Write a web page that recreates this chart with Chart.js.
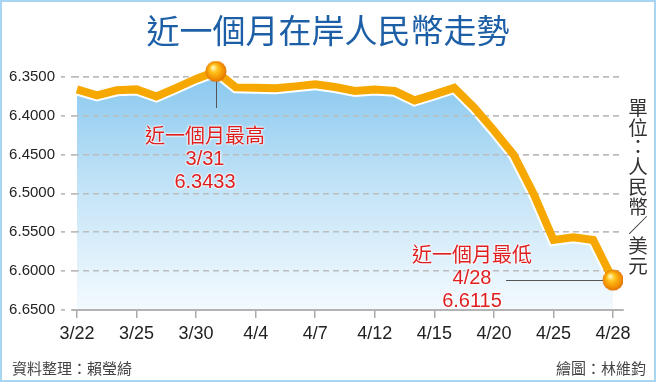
<!DOCTYPE html>
<html>
<head>
<meta charset="utf-8">
<script src="https://cdn.jsdelivr.net/npm/chart.js@4.4.1/dist/chart.umd.min.js"></script>
<style>
  html, body { margin: 0; padding: 0; background: #fff; }
  #wrap { position: relative; width: 656px; height: 382px; overflow: hidden; }
  #frame { position: absolute; left: 0; top: 0; width: 652px; height: 378px; border: 2px solid #a8d6f2; pointer-events: none; }
  canvas { position: absolute; left: 0; top: 0; }
  .txt { position: absolute; font-family: "Noto Sans CJK TC", "Liberation Sans", sans-serif; white-space: nowrap; }
  #title { left: 0; width: 656px; top: 8px; text-align: center; font-size: 33px; line-height: 42px; color: #1d5fa6; }
  #src { left: 12px; top: 358px; font-size: 15px; line-height: 20px; color: #444; }
  #artist { right: 10px; top: 358px; font-size: 15px; line-height: 20px; color: #444; }
  #unit { left: 628px; top: 97px; width: 20px; font-size: 19.5px; line-height: 19.7px; color: #333; }
  #unit span { display: block; text-align: center; }
  .note { color: #df1f1f; font-size: 20px; line-height: 21.5px; text-align: center; width: 160px;
          text-shadow: 0 0 2px #fff, 0 0 2px #fff, 0 0 3px #fff; }
  .note .num { font-family: "Liberation Sans", sans-serif; }
</style>
</head>
<body>
<div id="wrap">
  <canvas id="chart" width="656" height="382"></canvas>
  <div id="title" class="txt">近一個月在岸人民幣走勢</div>
  <div id="unit" class="txt"><span>單</span><span>位</span><span>：</span><span>人</span><span>民</span><span>幣</span><span>／</span><span>美</span><span>元</span></div>
  <div id="hi" class="txt note" style="left:125px; top:124px;">近一個月最高<br><span class="num">3/31</span><br><span class="num">6.3433</span></div>
  <div id="lo" class="txt note" style="left:392px; top:243px;">近一個月最低<br><span class="num">4/28</span><br><span class="num">6.6115</span></div>
  <div id="src" class="txt">資料整理：賴瑩綺</div>
  <div id="artist" class="txt">繪圖：林維鈞</div>
  <div id="frame"></div>
</div>
<script>
// trading days shown on the chart
const dates = ['3/22', '3/23', '3/24', '3/25', '3/28', '3/29', '3/30', '3/31', '4/1', '4/4',
               '4/5', '4/6', '4/7', '4/8', '4/11', '4/12', '4/13', '4/14', '4/15', '4/18',
               '4/19', '4/20', '4/21', '4/22', '4/25', '4/26', '4/27', '4/28'];
// CNY per USD
const rates = [6.3665, 6.3742, 6.3677, 6.3665, 6.3755, 6.3645, 6.3530, 6.3433, 6.3639, 6.3645,
               6.3649, 6.3626, 6.3600, 6.3635, 6.3684, 6.3665, 6.3684, 6.3806, 6.3729, 6.3645,
               6.3897, 6.4193, 6.4507, 6.5008, 6.5600, 6.5567, 6.5600, 6.6115];
const labelledDays = [0, 3, 6, 9, 12, 15, 18, 21, 24, 27];
const yTicks = [6.35, 6.40, 6.45, 6.50, 6.55, 6.60, 6.65];
const highIdx = 7;
const lowIdx = 27;

const points = rates.map((v, i) => ({ x: i, y: v }));
const marks = [highIdx, lowIdx].map(i => ({ x: i, y: rates[i] }));

// orange ball for the high / low points
const ball = document.createElement('canvas');
ball.width = 24; ball.height = 24;
(function () {
    const c = ball.getContext('2d');
    const g = c.createRadialGradient(9, 8, 1, 12, 12, 11);
    g.addColorStop(0, '#fff2b0');
    g.addColorStop(0.3, '#ffc21a');
    g.addColorStop(0.8, '#f08a00');
    g.addColorStop(1, '#d86a00');
    c.fillStyle = g;
    c.beginPath();
    c.arc(12, 12, 10.5, 0, Math.PI * 2);
    c.fill();
})();

// after the blue area: put the dashed grid back on top, then the leader lines
const overFill = {
    id: 'overFill',
    afterDatasetDraw(chart, args) {
        if (args.index !== 2) return;
        const { ctx, scales: { x, y } } = chart;
        y.drawGrid(chart.chartArea);
        x.drawBorder();
        ctx.save();
        ctx.strokeStyle = '#555';
        ctx.lineWidth = 1;
        ctx.beginPath();
        const hx = Math.round(x.getPixelForValue(highIdx)) + 0.5;
        ctx.moveTo(hx, y.getPixelForValue(rates[highIdx]));
        ctx.lineTo(hx, 108);
        const ly = Math.round(y.getPixelForValue(rates[lowIdx])) + 0.5;
        ctx.moveTo(506, ly);
        ctx.lineTo(x.getPixelForValue(lowIdx), ly);
        ctx.stroke();
        ctx.restore();
    }
};

new Chart(document.getElementById('chart'), {
    type: 'line',
    data: {
        datasets: [
            {
                data: marks,
                showLine: false,
                pointStyle: ball,
                pointRadius: 10,
                order: 0
            },
            {
                data: points,
                borderColor: '#f6a800',
                borderWidth: 8,
                borderJoinStyle: 'miter',
                pointRadius: 0,
                fill: false,
                order: 1
            },
            {
                data: points,
                borderColor: '#ffffff',
                borderWidth: 12,
                pointRadius: 0,
                fill: 'start',
                backgroundColor: (context) => {
                    const area = context.chart.chartArea;
                    if (!area) return '#bfe1f6';
                    const g = context.chart.ctx.createLinearGradient(0, area.top, 0, area.bottom);
                    g.addColorStop(0, '#82c5ee');
                    g.addColorStop(0.5, '#c2e3f7');
                    g.addColorStop(1, '#f4fafe');
                    return g;
                },
                order: 2
            }
        ]
    },
    options: {
        responsive: false,
        animation: false,
        layout: { padding: { top: 61, right: 33, left: 0, bottom: 0 } },
        plugins: { legend: { display: false }, tooltip: { enabled: false } },
        scales: {
            x: {
                type: 'linear',
                min: -0.2,
                max: 27.5,
                afterFit: (s) => { s.height = 72; },
                afterBuildTicks: (s) => { s.ticks = labelledDays.map(v => ({ value: v })); },
                ticks: {
                    autoSkip: false,
                    maxRotation: 0,
                    padding: 5,
                    color: '#222',
                    font: { family: 'Liberation Sans', size: 18 },
                    callback: (v) => dates[v]
                },
                grid: {
                    drawOnChartArea: false,
                    tickLength: 8,
                    color: '#aaaaaa',
                    lineWidth: 1.5
                },
                border: { display: true, color: '#b3b3b3', width: 2 }
            },
            y: {
                reverse: true,
                min: 6.33,
                max: 6.65,
                afterFit: (s) => { s.width = 73; },
                afterBuildTicks: (s) => { s.ticks = yTicks.map(v => ({ value: v })); },
                ticks: {
                    padding: 6,
                    color: '#222',
                    font: { family: 'Liberation Sans', size: 15 },
                    callback: (v) => v.toFixed(4)
                },
                grid: {
                    color: '#bcbcbc',
                    lineWidth: 1.5,
                    tickLength: 12,
                    tickBorderDash: [4, 6]
                },
                border: { display: false, dash: [6, 4] }
            }
        }
    },
    plugins: [overFill]
});
</script>
</body>
</html>
